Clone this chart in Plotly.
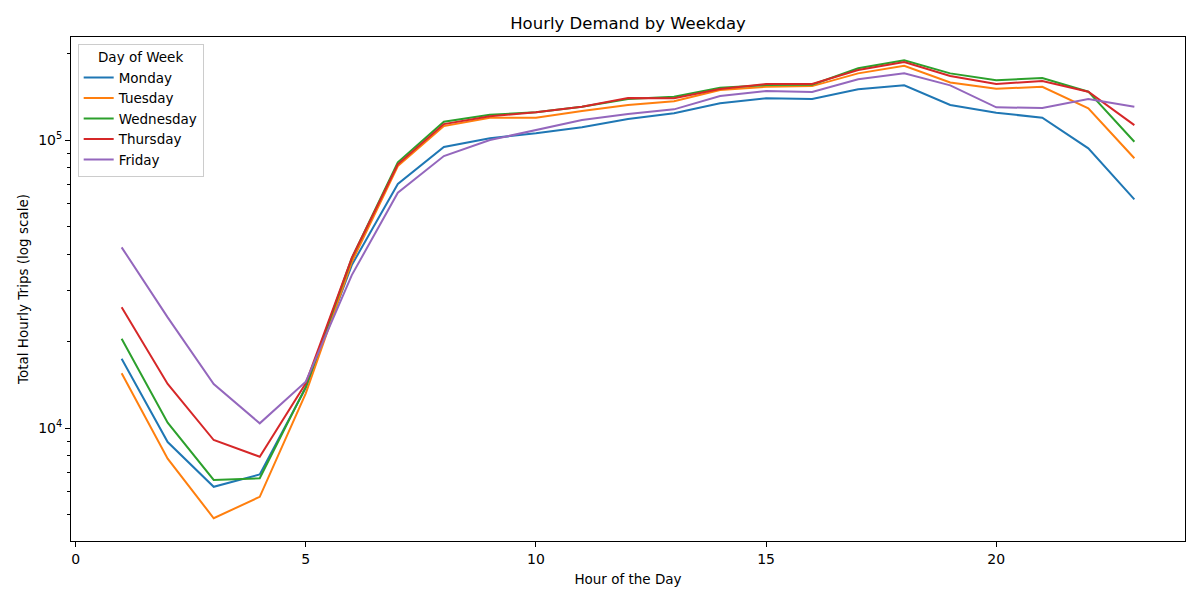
import numpy as np
from plotly import graph_objects as go

hours = [1, 2, 3, 4, 5, 6, 7, 8, 9, 10, 11, 12, 13, 14, 15, 16, 17, 18, 19, 20, 21, 22, 23]

monday = [17400, 8940, 6250, 6900, 13800, 36800, 70350, 94560, 101400, 105500, 110700, 118300,
          123800, 134100, 139600, 138800, 150000, 154800, 132300, 124400, 119500, 93580, 62230]
tuesday = [15490, 7830, 4860, 5770, 13200, 37700, 81230, 111800, 119500, 119500, 126100, 132300,
           136300, 149100, 153100, 153900, 170400, 181100, 158500, 150700, 153100, 128900, 86420]
wednesday = [20420, 10430, 6600, 6690, 13900, 38900, 83680, 115700, 122400, 124800, 130500, 138800,
             141400, 151900, 155200, 155700, 177400, 189100, 170400, 161200, 164200, 147200, 98650]
thursday = [26240, 14220, 9085, 7950, 14300, 39000, 82340, 113600, 120900, 124800, 130500, 139900,
            139600, 150300, 156500, 156500, 175000, 186600, 166800, 156500, 160300, 147200, 112700]
friday = [42400, 24220, 14220, 10380, 14480, 33960, 65630, 87990, 100000, 108300, 117300, 123100,
          127800, 142200, 148000, 146800, 162500, 170400, 154800, 129900, 129200, 138800, 130500]

days = ['Monday', 'Tuesday', 'Wednesday', 'Thursday', 'Friday']
series = [monday, tuesday, wednesday, thursday, friday]
colors = ['#1f77b4', '#ff7f0e', '#2ca02c', '#d62728', '#9467bd']

x_ticks = [0, 5, 10, 15, 20]
y_ticks = [1e4, 1e5]
y_ticktext = ['10<sup>4</sup>', '10<sup>5</sup>']

# page body has an 8px margin, so the margins are shifted to compensate
layout = go.Layout(
    paper_bgcolor='white',
    plot_bgcolor='white',
    width=1200, height=600,
    margin=dict(l=63, r=23, t=29, b=67, autoexpand=False),
    font=dict(family='DejaVu Sans', size=14, color='black'),
)
fig = go.Figure(layout=layout)

for name, vals, col in zip(days, series, colors):
    fig.add_trace(go.Scatter(x=hours, y=vals, mode='lines', name=name,
                             line=dict(color=col, width=2)))

# matplotlib-like log axis with minor ticks, no grid
minor_vals = [m * 10 ** e for e in (3, 4, 5) for m in range(2, 10)]
fig.update_xaxes(range=[-0.1, 24.1], tickvals=x_ticks, showgrid=False, zeroline=False,
                 showline=True, mirror=True, linewidth=1, linecolor='black', automargin=False,
                 ticks='outside', ticklen=5, tickcolor='black',
                 title=dict(text='Hour of the Day', font=dict(size=13.5), standoff=8))
fig.update_yaxes(type='log', range=[np.log10(4052), np.log10(227900)], tickvals=y_ticks,
                 ticktext=y_ticktext, showgrid=False, zeroline=False, automargin=False,
                 showline=True, mirror=True, linewidth=1, linecolor='black',
                 ticks='outside', ticklen=5, tickcolor='black',
                 minor=dict(tickvals=minor_vals, ticks='outside', ticklen=3, tickcolor='black'),
                 title=dict(text='Total Hourly Trips (log scale)', font=dict(size=13.5), standoff=6))

fig.update_layout(
    title=dict(text='Hourly Demand by Weekday', x=0.5 * (63 + 1177) / 1200, xanchor='center',
               y=1 - 15 / 600, yanchor='middle', font=dict(size=16.5), automargin=False),
    legend=dict(x=0.006, y=0.987, xanchor='left', yanchor='top',
                bgcolor='rgba(255,255,255,0.8)', bordercolor='#cccccc', borderwidth=1,
                title=dict(text='Day of Week', side='top center', font=dict(size=13.5)),
                font=dict(size=13.5), tracegroupgap=0, itemwidth=30),
)

fig.write_html("out.html")
